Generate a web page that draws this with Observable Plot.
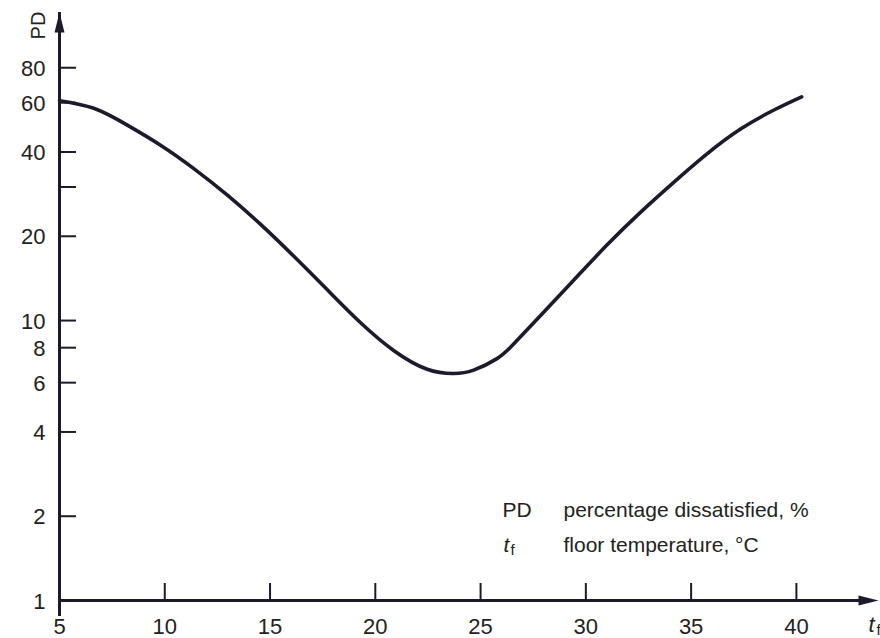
<!DOCTYPE html>
<html>
<head>
<meta charset="utf-8">
<script src="https://cdn.jsdelivr.net/npm/d3@7"></script>
<script src="https://cdn.jsdelivr.net/npm/@observablehq/plot@0.6"></script>
<style>
  html, body { margin: 0; padding: 0; background: #ffffff; }
  #chart { width: 880px; height: 638px; }
</style>
</head>
<body>
<div id="chart"></div>
<script>
// Floor temperature (°C) and percentage dissatisfied (%)
const tf = [5, 6.63, 8.22, 9.8, 11.38, 12.96, 14.54, 16.12, 17.71, 19.29, 20.87, 22.46, 23.72, 24.67, 25.78, 26.57, 27.85, 29.41, 31.0, 32.58, 34.16, 35.74, 37.33, 38.91, 40.25];
const pd = [61, 57.3, 49.9, 42.3, 34.9, 28.1, 22.1, 17.0, 12.9, 9.84, 7.82, 6.70, 6.47, 6.65, 7.31, 8.24, 10.43, 13.9, 18.6, 24.3, 31.1, 39.3, 48.2, 56.4, 63.0];

const xTickLabels = [5, 10, 15, 20, 25, 30, 35, 40];
const xTickMarks = [10, 15, 20, 25, 30, 35, 40];
const yTickLabels = [1, 2, 4, 6, 8, 10, 20, 40, 60, 80];
const yTickMarks = [2, 4, 6, 8, 10, 20, 30, 40, 60, 80];

const xDomain = [5, 43.9];
const yDomain = [1, 126];

const legendKeys = ["PD", "t", "f"];
const legendTexts = ["percentage dissatisfied, %", "floor temperature, °C"];
const axisNames = ["PD", "t", "f"];

const data = tf.map((t, i) => ({t, pd: pd[i]}));
const ink = "#1d1a2b";
const txt = "#222222";

const upHead = {draw(ctx) { ctx.moveTo(0, 0); ctx.lineTo(-5, 20); ctx.lineTo(5, 20); ctx.closePath(); }};
const rightHead = {draw(ctx) { ctx.moveTo(0, 0); ctx.lineTo(-20, -5); ctx.lineTo(-20, 5); ctx.closePath(); }};

const T = {fill: txt, lineAnchor: "middle"};

const chart = Plot.plot({
  width: 880,
  height: 638,
  marginLeft: 59,
  marginRight: 2,
  marginTop: 12,
  marginBottom: 38,
  style: {fontFamily: "'Liberation Sans', Arial, Helvetica, sans-serif", background: "#ffffff", color: txt},
  x: {domain: xDomain, axis: null},
  y: {type: "log", domain: yDomain, axis: null},
  marks: [
    // axis lines with arrowheads
    Plot.ruleY([yDomain[0]], {x1: xDomain[0], x2: xDomain[1], insetRight: 16, stroke: ink, strokeWidth: 3}),
    Plot.ruleX([xDomain[0]], {y1: yDomain[0], y2: yDomain[1], insetTop: 16, stroke: ink, strokeWidth: 3}),
    Plot.dot([0], {x: xDomain[0], y: yDomain[1], symbol: upHead, fill: ink, stroke: "none"}),
    Plot.dot([0], {x: xDomain[1], y: yDomain[0], symbol: rightHead, fill: ink, stroke: "none"}),
    // inner tick marks
    Plot.ruleY(yTickMarks, {y: d => d, x1: xDomain[0], x2: xDomain[0], insetRight: -17, stroke: ink, strokeWidth: 2}),
    Plot.ruleX(xTickMarks, {x: d => d, y1: yDomain[0], y2: yDomain[0], insetTop: -17, stroke: ink, strokeWidth: 2}),
    // tick labels
    Plot.text(xTickLabels, {x: d => d, y: yDomain[0], text: d => String(d), dy: 26, fontSize: 22, textAnchor: "middle", ...T}),
    Plot.text(yTickLabels, {x: xDomain[0], y: d => d, text: d => String(d), dx: -14, dy: 1, fontSize: 22, textAnchor: "end", ...T}),
    // curve
    Plot.line(data, {x: "t", y: "pd", curve: "natural", stroke: ink, strokeWidth: 3.6, strokeLinecap: "round"}),
    // axis names
    Plot.text([axisNames[0]], {text: d => d, frameAnchor: "top-left", dx: -21, dy: 13, rotate: -90, fontSize: 20, textAnchor: "middle", ...T}),
    Plot.text([axisNames[1]], {text: d => d, frameAnchor: "bottom-right", dx: -7, dy: 24, fontSize: 22, fontStyle: "italic", textAnchor: "middle", ...T}),
    Plot.text([axisNames[2]], {text: d => d, frameAnchor: "bottom-right", dx: -2, dy: 30, fontSize: 15, textAnchor: "start", ...T}),
    // legend
    Plot.text([legendKeys[0]], {text: d => d, frameAnchor: "bottom-left", dx: 443, dy: -90, fontSize: 21, textAnchor: "start", ...T}),
    Plot.text([legendTexts[0]], {text: d => d, frameAnchor: "bottom-left", dx: 504, dy: -90, fontSize: 21, textAnchor: "start", ...T}),
    Plot.text([legendKeys[1]], {text: d => d, frameAnchor: "bottom-left", dx: 444, dy: -55, fontSize: 21, fontStyle: "italic", textAnchor: "start", ...T}),
    Plot.text([legendKeys[2]], {text: d => d, frameAnchor: "bottom-left", dx: 451, dy: -50, fontSize: 15, textAnchor: "start", ...T}),
    Plot.text([legendTexts[1]], {text: d => d, frameAnchor: "bottom-left", dx: 504, dy: -55, fontSize: 21, textAnchor: "start", ...T})
  ]
});
document.getElementById("chart").appendChild(chart);
</script>
</body>
</html>
